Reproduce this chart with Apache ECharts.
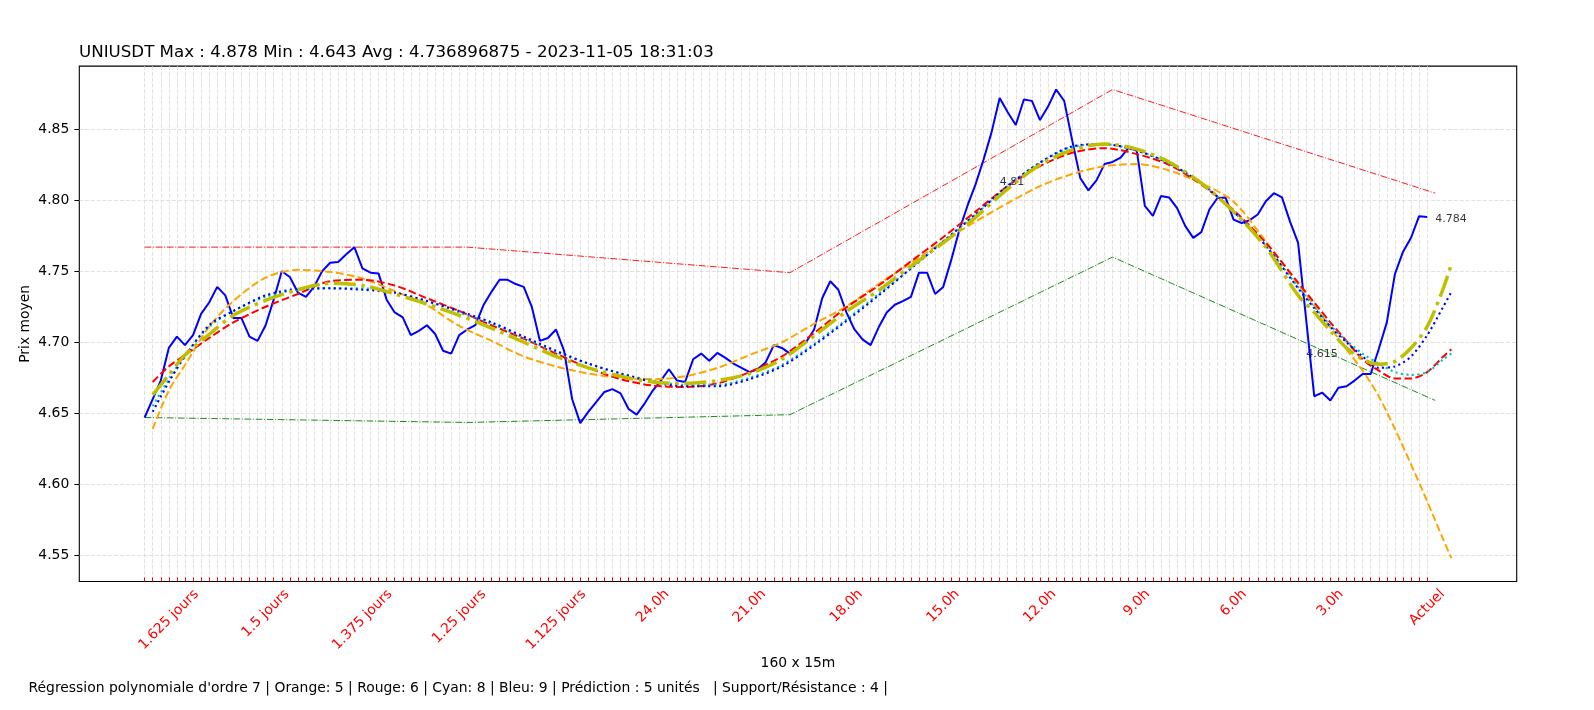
<!DOCTYPE html>
<html><head><meta charset="utf-8">
<script src="https://cdn.jsdelivr.net/npm/echarts@6/dist/echarts.min.js"></script>
<style>html,body{margin:0;padding:0;background:#fff}#c{width:1594px;height:710px}</style>
</head><body><div id="c"></div>
<script>
// ---------- texts ----------
const titleText = "UNIUSDT Max : 4.878 Min : 4.643 Avg : 4.736896875 - 2023-11-05 18:31:03";
const xAxisTitle = "160 x 15m";
const yAxisTitle = "Prix moyen";
const footerText = "Régression polynomiale d'ordre 7 | Orange: 5 | Rouge: 6 | Cyan: 8 | Bleu: 9 | Prédiction : 5 unités   | Support/Résistance : 4 |";

// ---------- axis ticks ----------
const tickPositions = [3, 15, 27, 39, 51, 63, 75, 87, 99, 111, 123, 135, 147, 159];
const tickLabels = ["1.625 jours", "1.5 jours", "1.375 jours", "1.25 jours", "1.125 jours", "24.0h", "21.0h", "18.0h", "15.0h", "12.0h", "9.0h", "6.0h", "3.0h", "Actuel"];
const yTicks = [4.55, 4.60, 4.65, 4.70, 4.75, 4.80, 4.85];

// ---------- price (160 x 15m) ----------
const price = [
4.647, 4.660, 4.673, 4.696, 4.704, 4.698, 4.705, 4.720, 4.728, 4.739,
4.733, 4.717, 4.717, 4.704, 4.701, 4.712, 4.730, 4.750, 4.746, 4.735,
4.732, 4.739, 4.750, 4.756, 4.7565, 4.762, 4.767, 4.752, 4.749, 4.7485,
4.730, 4.721, 4.7175, 4.705, 4.708, 4.712, 4.706, 4.694, 4.692, 4.705,
4.709, 4.712, 4.726, 4.7355, 4.744, 4.744, 4.741, 4.739, 4.725, 4.701,
4.703, 4.709, 4.694, 4.660, 4.643, 4.651, 4.658, 4.665, 4.667, 4.664,
4.653, 4.649, 4.657, 4.666, 4.673, 4.681, 4.673, 4.672, 4.688, 4.692,
4.687, 4.6925, 4.689, 4.685, 4.682, 4.679, 4.681, 4.686, 4.698, 4.696,
4.692, 4.696, 4.700, 4.709, 4.731, 4.743, 4.737, 4.721, 4.709, 4.702,
4.698, 4.7105, 4.721, 4.7264, 4.729, 4.732, 4.749, 4.749, 4.734, 4.739,
4.758, 4.779, 4.796, 4.811, 4.8285, 4.848, 4.872, 4.862, 4.853, 4.871,
4.870, 4.8565, 4.866, 4.878, 4.870, 4.842, 4.8155, 4.807, 4.814, 4.8255,
4.827, 4.830, 4.837, 4.835, 4.796, 4.789, 4.803, 4.802, 4.7945, 4.782,
4.7735, 4.7776, 4.7935, 4.8016, 4.802, 4.7864, 4.784, 4.786, 4.790, 4.7993,
4.805, 4.802, 4.785, 4.770, 4.716, 4.662, 4.6645, 4.659, 4.668, 4.669,
4.673, 4.6776, 4.6776, 4.6953, 4.714, 4.748, 4.7636, 4.7736, 4.7888, 4.7883
];

// ---------- polynomial fits ----------
const fitX = [1, 3, 5, 8, 11, 15, 19, 23, 27, 31, 35, 39, 43, 47, 51, 55, 59, 63, 67, 71, 75, 79, 83, 87, 91, 95, 99, 103, 107, 111, 115, 119, 123, 127, 131, 135, 139,
              143, 145, 147, 149, 151, 153, 155, 157, 159, 161, 162];
const fitOrange5 = [4.639, 4.666, 4.684, 4.711, 4.729, 4.7455, 4.751, 4.7495, 4.745, 4.736, 4.726, 4.7115, 4.701, 4.690, 4.683, 4.678, 4.675, 4.674, 4.676, 4.682, 4.691, 4.700, 4.713, 4.7252, 4.741, 4.7558, 4.771, 4.785, 4.798, 4.810, 4.8185, 4.824, 4.8255, 4.821, 4.812, 4.799, 4.771,
                    4.741, 4.726, 4.7105, 4.695, 4.680, 4.662, 4.639, 4.614, 4.588, 4.561, 4.548];
const fitRed6 = [4.672, 4.683, 4.691, 4.703, 4.714, 4.725, 4.734, 4.743, 4.744, 4.740, 4.731, 4.722, 4.712, 4.7025, 4.692, 4.682, 4.674, 4.6695, 4.6685, 4.671, 4.679, 4.690, 4.7065, 4.7245, 4.740, 4.757, 4.774, 4.792, 4.810, 4.824, 4.8335, 4.8367, 4.8325, 4.825, 4.811, 4.793, 4.770,
                 4.742, 4.728, 4.714, 4.701, 4.688, 4.680, 4.6745, 4.6745, 4.679, 4.690, 4.695];
const fitYellow7 = [4.663, 4.677, 4.691, 4.7055, 4.719, 4.7295, 4.737, 4.7415, 4.740, 4.734, 4.727, 4.719, 4.710, 4.700, 4.690, 4.682, 4.676, 4.672, 4.671, 4.673, 4.678, 4.688, 4.7045, 4.7217, 4.7365, 4.7535, 4.770, 4.788, 4.808, 4.825, 4.8355, 4.8397, 4.836, 4.827, 4.812, 4.792, 4.767,
                    4.733, 4.721, 4.708, 4.696, 4.688, 4.6845, 4.6865, 4.696, 4.711, 4.738, 4.755];
const fitCyan8 = [4.655, 4.674, 4.691, 4.711, 4.722, 4.732, 4.737, 4.738, 4.738, 4.735, 4.729, 4.721, 4.713, 4.703, 4.693, 4.685, 4.678, 4.673, 4.670, 4.670, 4.675, 4.684, 4.699, 4.716, 4.734, 4.752, 4.771, 4.790, 4.810, 4.8265, 4.8375, 4.8395, 4.835, 4.826, 4.812, 4.792, 4.768,
                  4.739, 4.725, 4.712, 4.701, 4.692, 4.685, 4.679, 4.677, 4.679, 4.688, 4.692];
const fitBlue9 = [4.651, 4.672, 4.690, 4.712, 4.722, 4.733, 4.7375, 4.738, 4.737, 4.735, 4.729, 4.722, 4.714, 4.704, 4.694, 4.685, 4.678, 4.672, 4.669, 4.669, 4.674, 4.683, 4.698, 4.715, 4.733, 4.752, 4.771, 4.790, 4.810, 4.8265, 4.838, 4.8395, 4.835, 4.826, 4.812, 4.792, 4.768,
                  4.738, 4.724, 4.711, 4.700, 4.690, 4.682, 4.683, 4.690, 4.705, 4.725, 4.7355];

// ---------- support / resistance ----------
const srX = [0, 40, 80, 120, 160];
const resistance = [4.767, 4.767, 4.749, 4.878, 4.805];
const support = [4.647, 4.6435, 4.649, 4.760, 4.659];

// ---------- annotations ----------
const annotX = [106, 144, 160];
const annotY = [4.81, 4.689, 4.784];
const annotText = ["4.81", "4.615", "4.784"];

// ---------- build ----------
const FONT = 'DejaVu Sans';
const FS = 13.9;
const zip = (xs, ys) => xs.map((x, i) => [x, ys[i]]);
const allIdx = price.map((_, i) => i);

const mctx = document.createElement('canvas').getContext('2d');
mctx.font = FS + 'px "' + FONT + '"';
const rich = {};
tickLabels.forEach((t, k) => {
  const L = mctx.measureText(t).width;
  const p = 0.5 * (L + 16);
  rich['l' + k] = { color: '#ff0000', fontSize: FS, fontFamily: FONT, padding: [p, p, 0, 0] };
});

const chart = echarts.init(document.getElementById('c'), null, { renderer: 'canvas' });

function fitSeries(data, color, width, type, z) {
  return {
    type: 'line', data: zip(fitX, data), showSymbol: false, smooth: 0.3,
    lineStyle: { color, width, type, cap: 'butt' }, z, silent: true
  };
}

chart.setOption({
  animation: false,
  backgroundColor: '#ffffff',
  title: [
    { text: titleText, left: 79, top: 44, padding: 0,
      textStyle: { fontSize: 16.67, fontWeight: 'normal', color: '#000', fontFamily: FONT } },
    { text: xAxisTitle, left: 798, top: 656, padding: 0, textAlign: 'center',
      textStyle: { fontSize: FS, fontWeight: 'normal', color: '#000', fontFamily: FONT } },
    { text: footerText, left: 28.5, top: 681, padding: 0,
      textStyle: { fontSize: FS, fontWeight: 'normal', color: '#000', fontFamily: FONT } }
  ],
  grid: { left: 79.3, top: 66.1, width: 1437.4, height: 515.4, show: true,
          borderColor: '#000', borderWidth: 1.1, backgroundColor: 'transparent',
          containLabel: false, outerBoundsMode: 'none' },
  xAxis: {
    type: 'value', min: -8.1, max: 170.1,
    axisLine: { show: false, onZero: false },
    axisTick: { show: true, inside: true, length: 4, customValues: allIdx,
                lineStyle: { color: '#ff0000', width: 1 } },
    axisLabel: {
      show: true, customValues: tickPositions, rotate: 45, margin: 4.9,
      align: 'center', verticalAlign: 'middle',
      formatter: (v) => { const k = tickPositions.indexOf(Math.round(v)); return k < 0 ? '' : '{l' + k + '|' + tickLabels[k] + '}'; },
      rich
    },
    splitLine: { show: true, lineStyle: { color: '#d9d9d9', width: 0.8, type: [4, 1.8] } }
  },
  yAxis: {
    type: 'value', min: 4.5315, max: 4.8945,
    name: yAxisTitle, nameLocation: 'middle', nameGap: 54, nameRotate: 90, nameMoveOverlap: false,
    nameTextStyle: { fontSize: FS, color: '#000', fontFamily: FONT, verticalAlign: 'middle', align: 'center' },
    axisLine: { show: false, onZero: false },
    axisTick: { show: true, inside: false, length: 4.9, customValues: yTicks, lineStyle: { color: '#000', width: 1 } },
    axisLabel: { show: true, customValues: yTicks, margin: 10, color: '#000', fontSize: FS, fontFamily: FONT,
                 formatter: (v) => v.toFixed(2) },
    splitLine: { show: true, lineStyle: { color: '#d9d9d9', width: 0.8, type: [4, 1.8] } }
  },
  series: [
    { type: 'scatter', data: zip(annotX, annotY), symbolSize: 0, z: 1, silent: true,
      label: { show: true, position: [0, 0], align: 'left', verticalAlign: 'bottom', offset: [0, 2],
               fontSize: 11, fontFamily: FONT, color: '#000',
               formatter: (p) => annotText[p.dataIndex] } },
    { type: 'line', data: zip(srX, resistance), showSymbol: false, z: 2, silent: true,
      lineStyle: { color: '#ff0000', width: 0.9, type: [6.7, 1.7, 1, 1.7] } },
    { type: 'line', data: zip(srX, support), showSymbol: false, z: 2, silent: true,
      lineStyle: { color: '#008000', width: 0.9, type: [6.7, 1.7, 1, 1.7] } },
    { type: 'line', data: price.map((v, i) => [i, v]), showSymbol: false, z: 3, silent: true,
      lineStyle: { color: '#0000ff', width: 2 } },
    fitSeries(fitOrange5, '#ffa500', 2, [7.7, 3.3], 4),
    fitSeries(fitRed6, '#ff0000', 2, [7.7, 3.3], 4),
    fitSeries(fitCyan8, '#00bfbf', 2.1, [2.1, 3.4], 4),
    fitSeries(fitBlue9, '#0000ff', 2.1, [2.1, 3.4], 4),
    fitSeries(fitYellow7, '#bfbf00', 3.5, [22, 5.6, 3.5, 5.6], 5)
  ]
});
</script></body></html>
